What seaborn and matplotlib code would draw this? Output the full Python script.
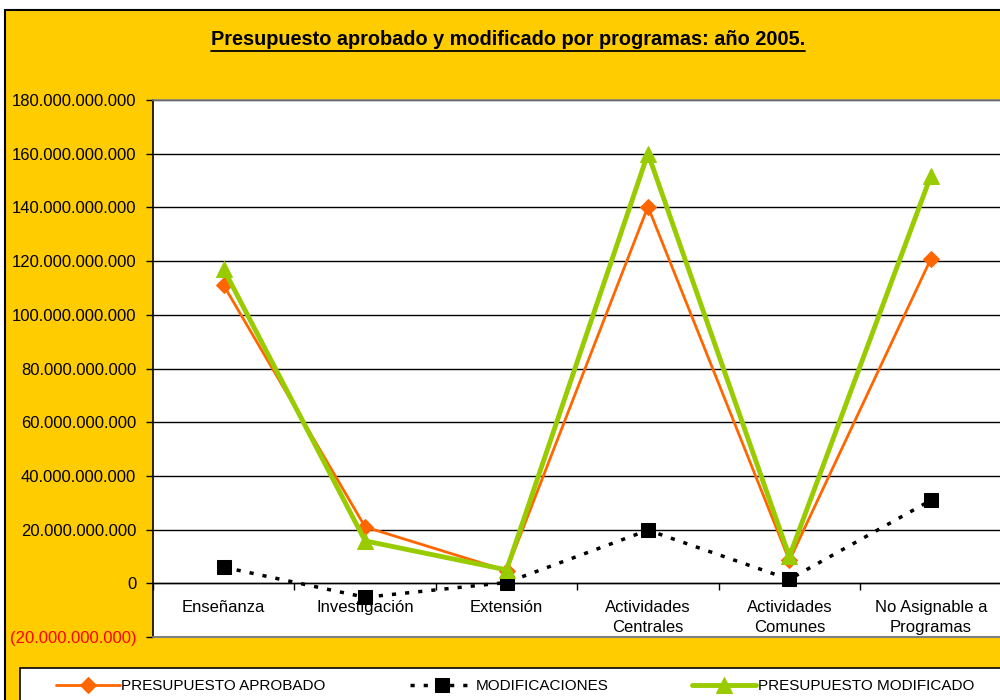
import matplotlib
matplotlib.use('Agg')
import matplotlib.pyplot as plt
import seaborn as sns
import numpy as np
import pandas as pd
from matplotlib.patches import Rectangle
from matplotlib.lines import Line2D

categories = ["Enseñanza", "Investigación", "Extensión", "Actividades\nCentrales",
              "Actividades\nComunes", "No Asignable a\nProgramas"]
aprobado = [111.0e9, 21.0e9, 4.7e9, 140.3e9, 8.5e9, 120.8e9]
modificaciones = [6.0e9, -5.2e9, 0.3e9, 19.8e9, 1.5e9, 30.9e9]
modificado = [117.0e9, 15.8e9, 5.0e9, 160.1e9, 10.0e9, 151.7e9]
series_names = ["PRESUPUESTO APROBADO", "MODIFICACIONES", "PRESUPUESTO MODIFICADO"]
yticks = [-20e9, 0, 20e9, 40e9, 60e9, 80e9, 100e9, 120e9, 140e9, 160e9, 180e9]
title = "Presupuesto aprobado y modificado por programas: año 2005."

sns.set_theme(style="ticks")
plt.rcParams['font.family'] = ['Liberation Sans', 'DejaVu Sans']
plt.rcParams.update({"text.color": "black", "axes.labelcolor": "black",
                     "xtick.color": "black", "ytick.color": "black"})

YELLOW = "#FFCC00"
ORANGE = "#FF6600"
GREEN = "#99CC00"

fig = plt.figure(figsize=(10, 7), dpi=100)
fig.patch.set_facecolor("white")
# yellow chart area with black border
fig.patches.append(Rectangle((0.005, -0.02), 1.02, 1.006, transform=fig.transFigure,
                             facecolor=YELLOW, edgecolor="black", linewidth=1.5, zorder=-2))
# legend box
fig.patches.append(Rectangle((0.02, -0.05), 1.0, 0.0957, transform=fig.transFigure,
                             facecolor="white", edgecolor="black", linewidth=1.2, zorder=-1))

ax = fig.add_axes([0.153, 0.09, 0.8485, 0.767])
ax.set_facecolor("white")

pos = np.arange(len(categories))
df = pd.DataFrame({"pos": pos, "aprobado": aprobado, "modificaciones": modificaciones,
                   "modificado": modificado})

sns.lineplot(data=df, x="pos", y="aprobado", ax=ax, color=ORANGE, linewidth=2,
             marker="D", markersize=8, markeredgecolor=ORANGE, label=series_names[0], zorder=3)
sns.lineplot(data=df, x="pos", y="modificaciones", ax=ax, color="black", linewidth=2.5,
             linestyle=(0, (1.2, 2.6)), marker="s", markersize=10, markeredgecolor="black",
             label=series_names[1], zorder=3)
sns.lineplot(data=df, x="pos", y="modificado", ax=ax, color=GREEN, linewidth=3.5,
             marker="^", markersize=11, markeredgecolor=GREEN, label=series_names[2], zorder=4)

ax.set_xlim(-0.5, len(categories) - 0.5)
ax.set_ylim(-20e9, 180e9)
ax.set_xlabel("")
ax.set_ylabel("")

def fmt(v):
    n = int(round(v))
    s = f"{abs(n):,}".replace(",", ".")
    return f"({s})" if n < 0 else s

ax.set_yticks(yticks, labels=[fmt(v) for v in yticks])
for lbl in ax.get_yticklabels():
    lbl.set_color("red" if lbl.get_text().startswith("(") else "black")
ax.tick_params(axis="y", direction="out", length=5, width=1, color="black",
               labelsize=12, pad=7)

ax.grid(axis="y", color="black", linewidth=1)
ax.set_axisbelow(True)

# x axis at zero
ax.spines["bottom"].set_position(("data", 0))
ax.spines["bottom"].set_color("black")
ax.spines["bottom"].set_linewidth(1)
ax.set_xticks(pos, labels=categories)
ax.set_xticks(np.arange(len(categories) + 1) - 0.5, minor=True)
ax.tick_params(axis="x", which="major", length=0, pad=12, labelsize=12)
ax.tick_params(axis="x", which="minor", length=5, direction="out", color="black", width=1)
for lbl in ax.get_xticklabels():
    lbl.set_linespacing(1.45)
ax.spines["left"].set_color("black")
ax.spines["left"].set_linewidth(1.2)
for s in ["top", "right"]:
    ax.spines[s].set_color("#808080")
    ax.spines[s].set_linewidth(1.2)
ax.axhline(-20e9, color="#808080", linewidth=1.5, clip_on=False, zorder=5)

ax.get_legend().remove()
handles, labels = ax.get_legend_handles_labels()
fig.legend(handles, labels, loc="center", bbox_to_anchor=(0.515, 0.02), ncol=3,
           frameon=False, fontsize=11, handlelength=4.2, handletextpad=0.1,
           columnspacing=5.5)

t = fig.text(0.508, 0.943, title, ha="center", va="center", fontsize=14.3, fontweight="bold")
fig.canvas.draw()
bb = t.get_window_extent().transformed(fig.transFigure.inverted())
fig.lines.append(Line2D([bb.x0, bb.x1], [bb.y0 - 0.002, bb.y0 - 0.002],
                        transform=fig.transFigure, color="black", linewidth=1.3))

fig.savefig("out.png", dpi=100, facecolor=fig.get_facecolor())
